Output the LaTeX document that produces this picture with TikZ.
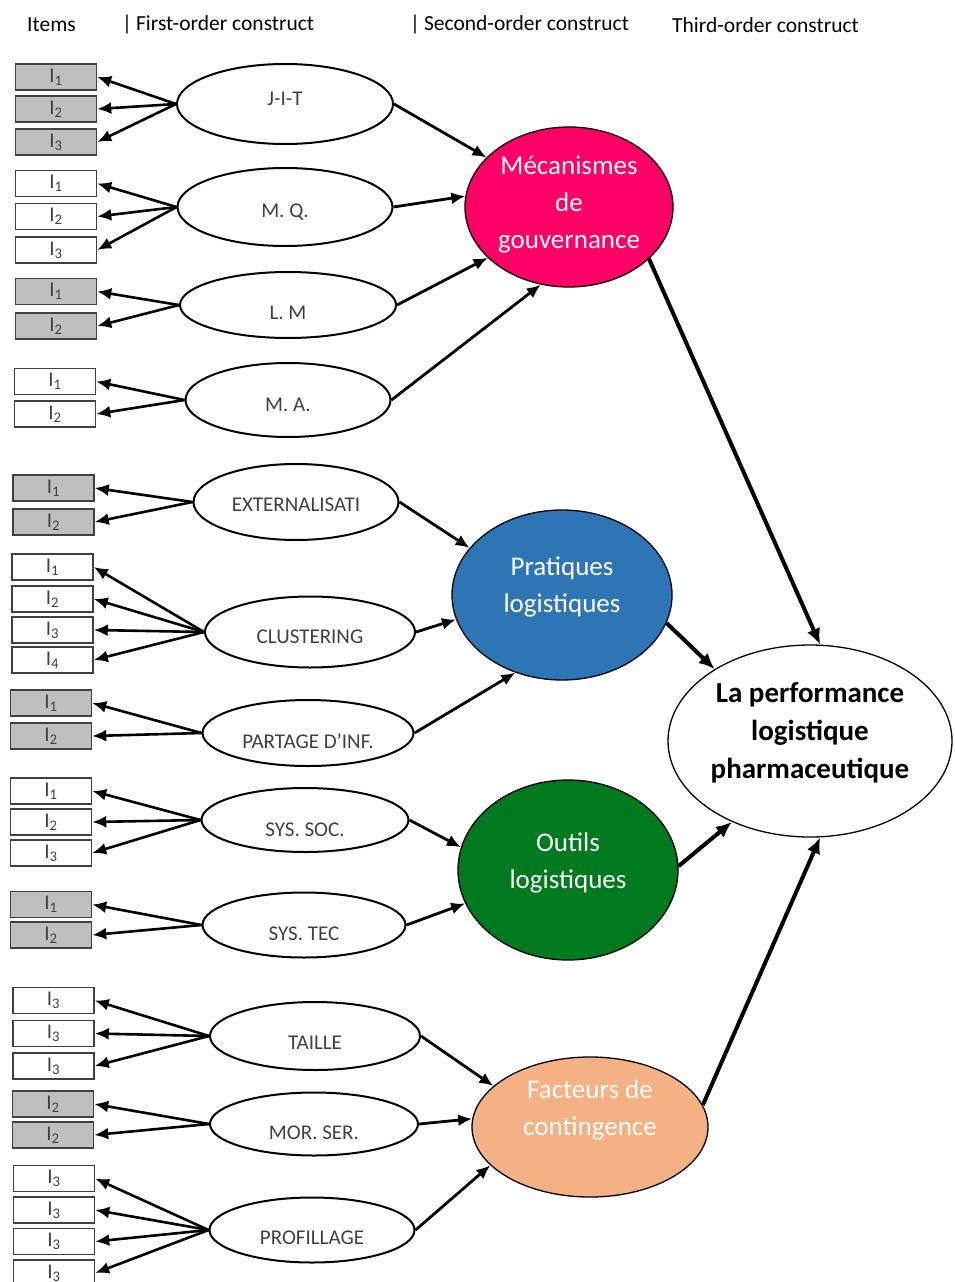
\documentclass[tikz,border=0pt]{standalone}
\usepackage{fontspec}
\setmainfont{Carlito}
\usetikzlibrary{shapes.geometric,arrows.meta}
\definecolor{mecol}{HTML}{FF0066}
\definecolor{pratcol}{HTML}{2E75B6}
\definecolor{outcol}{HTML}{007A1F}
\definecolor{faccol}{HTML}{F4B183}
\definecolor{itemgray}{HTML}{BFBFBF}
\definecolor{txtgray}{HTML}{404040}
\tikzset{
 itembox/.style={draw=black!75, line width=1.5pt, rectangle, minimum width=81pt, minimum height=26pt, inner sep=0pt, font=\fontsize{21}{21}\selectfont, text=txtgray},
 grayitem/.style={itembox, fill=itemgray},
 whiteitem/.style={itembox, fill=white},
 first/.style={draw, line width=2pt, ellipse, inner sep=0pt, font=\fontsize{21}{21}\selectfont, text=txtgray},
 second/.style={draw, line width=1.3pt, ellipse, inner sep=0pt},
 sectext/.style={text=white, align=center, font=\fontsize{27}{37}\selectfont},
 fan/.style={-{Latex[length=14pt,width=12pt]}, line width=2.6pt},
 link/.style={-{Latex[length=14pt,width=12pt]}, line width=2.8pt},
 big/.style={-{Latex[length=16pt,width=14pt]}, line width=4pt},
 head/.style={font=\fontsize{21.5}{21.5}\selectfont, anchor=west, inner sep=0pt},
}
\newcommand\itm[5]{\node[#1] (#2) at (#3,#4) {I\textsubscript{#5}};}
\begin{document}
\begin{tikzpicture}[x=1pt,y=-1pt]
\useasboundingbox (0,0) rectangle (954,1282);
% header
\node[head] (h1) at (27,25) {Items};
\node[head] (h2) at (122,25) {|\hspace{4pt}First-order construct};
\node[head] (h3) at (410,25) {|\hspace{4pt}Second-order construct};
\node[head] (h4) at (672,25) {Third-order construct};
% first-order constructs
\node[first, minimum width=216pt, minimum height=80pt, text height=3.6pt, text depth=0pt] (jit) at (285,104) {J-I-T};
\node[first, minimum width=215pt, minimum height=78pt, text height=21.6pt, text depth=0pt] (mq) at (285,207) {M. Q.};
\node[first, minimum width=216pt, minimum height=66pt, text height=29.6pt, text depth=0pt] (lm) at (288,305) {L. M};
\node[first, minimum width=205pt, minimum height=74pt, text height=23.6pt, text depth=0pt] (ma) at (288,400) {M. A.};
\node[first, minimum width=205pt, minimum height=76pt, text height=19.6pt, text depth=0pt] (ext) at (296,502) {EXTERNALISATI};
\node[first, minimum width=210pt, minimum height=71pt, text height=23.6pt, text depth=0pt] (clu) at (310,632) {CLUSTERING};
\node[first, minimum width=211pt, minimum height=66pt, text height=31.6pt, text depth=0pt] (par) at (308,733) {PARTAGE D’INF.};
\node[first, minimum width=207pt, minimum height=64pt, text height=33.6pt, text depth=0pt] (soc) at (305,820) {SYS. SOC.};
\node[first, minimum width=203pt, minimum height=65pt, text height=31.6pt, text depth=0pt] (tec) at (304,925) {SYS. TEC};
\node[first, minimum width=210pt, minimum height=68pt, text height=27.6pt, text depth=0pt] (tai) at (315,1036) {TAILLE};
\node[first, minimum width=208pt, minimum height=63pt, text height=31.6pt, text depth=0pt] (mor) at (314,1124) {MOR. SER.};
\node[first, minimum width=205pt, minimum height=65pt, text height=29.6pt, text depth=0pt] (pro) at (312,1230) {PROFILLAGE};
% items
\itm{grayitem}{jit1}{56}{77}{1}
\itm{grayitem}{jit2}{56}{109}{2}
\itm{grayitem}{jit3}{56}{142}{3}
\itm{whiteitem}{mq1}{56}{183.5}{1}
\itm{whiteitem}{mq2}{56}{216.5}{2}
\itm{whiteitem}{mq3}{56}{250}{3}
\itm{grayitem}{lm1}{56}{291.5}{1}
\itm{grayitem}{lm2}{56}{326}{2}
\itm{whiteitem}{ma1}{55}{381.5}{1}
\itm{whiteitem}{ma2}{55}{414}{2}
\itm{grayitem}{ext1}{53.5}{488}{1}
\itm{grayitem}{ext2}{53.5}{522}{2}
\itm{whiteitem}{clu1}{52.5}{567}{1}
\itm{whiteitem}{clu2}{52.5}{599}{2}
\itm{whiteitem}{clu3}{52.5}{630}{3}
\itm{whiteitem}{clu4}{52.5}{660}{4}
\itm{grayitem}{par1}{51}{703}{1}
\itm{grayitem}{par2}{51}{736}{2}
\itm{whiteitem}{soc1}{51}{791}{1}
\itm{whiteitem}{soc2}{51}{822}{2}
\itm{whiteitem}{soc3}{51}{853}{3}
\itm{grayitem}{tec1}{51}{904.5}{1}
\itm{grayitem}{tec2}{51}{935}{2}
\itm{whiteitem}{tai1}{53.5}{1000.5}{3}
\itm{whiteitem}{tai2}{53.5}{1033.5}{3}
\itm{whiteitem}{tai3}{53.5}{1066}{3}
\itm{grayitem}{mor1}{53}{1104}{2}
\itm{grayitem}{mor2}{53}{1135}{2}
\itm{whiteitem}{pro1}{54}{1178.5}{3}
\itm{whiteitem}{pro2}{54}{1210}{3}
\itm{whiteitem}{pro3}{54}{1241.5}{3}
\itm{whiteitem}{pro4}{54}{1273}{3}
% fan arrows
\foreach \c/\n in {jit/3,mq/3,lm/2,ma/2,ext/2,clu/4,par/2,soc/3,tec/2,tai/3,mor/2,pro/4}{
  \foreach \i in {1,...,\n}{
    \draw[fan] (\c.west) -- (\c\i.east);
  }
}
% second-order constructs
\node[second, fill=mecol, minimum width=208pt, minimum height=160pt,
  label={[sectext, yshift=2pt]center:Mécanismes\\de\\gouvernance}] (mec) at (569,207) {};
\node[second, fill=pratcol, minimum width=220pt, minimum height=170pt,
  label={[sectext, yshift=8pt]center:Pratiques\\logistiques}] (pra) at (562,595) {};
\node[second, fill=outcol, minimum width=220pt, minimum height=180pt,
  label={[sectext, yshift=7pt]center:Outils\\logistiques}] (out) at (568,870) {};
\node[second, fill=faccol, minimum width=236pt, minimum height=140pt,
  label={[sectext, yshift=17pt]center:Facteurs de\\contingence}] (fac) at (590,1127) {};
\node[second, fill=white, minimum width=284pt, minimum height=192pt,
  label={[sectext, text=black, font=\fontsize{29}{38}\selectfont\bfseries, yshift=8pt]center:La performance\\logistique\\pharmaceutique}] (perf) at (810,741) {};
% first -> second
\draw[link] (jit.east) -- (mec.149);
\draw[link] (mq.east) -- (mec.174);
\draw[link] (lm.east) -- (mec.212);
\draw[link] (ma.east) -- (mec.250);
\draw[link] (ext.east) -- (pra.153);
\draw[link] (clu.east) -- (pra.193);
\draw[link] (par.east) -- (pra.239);
\draw[link] (soc.east) -- (out.168);
\draw[link] (tec.east) -- (out.198);
\draw[link] (tai.east) -- (fac.157);
\draw[link] (mor.east) -- (fac.176);
\draw[link] (pro.east) -- (fac.201);
% second -> third
\draw[big] (mec.327) -- (perf.84);
\draw[big] (pra.345) -- (perf.143);
\draw[big] (out.2) -- (perf.226);
\draw[big] (fac.11) -- (perf.276);
\end{tikzpicture}
\end{document}
